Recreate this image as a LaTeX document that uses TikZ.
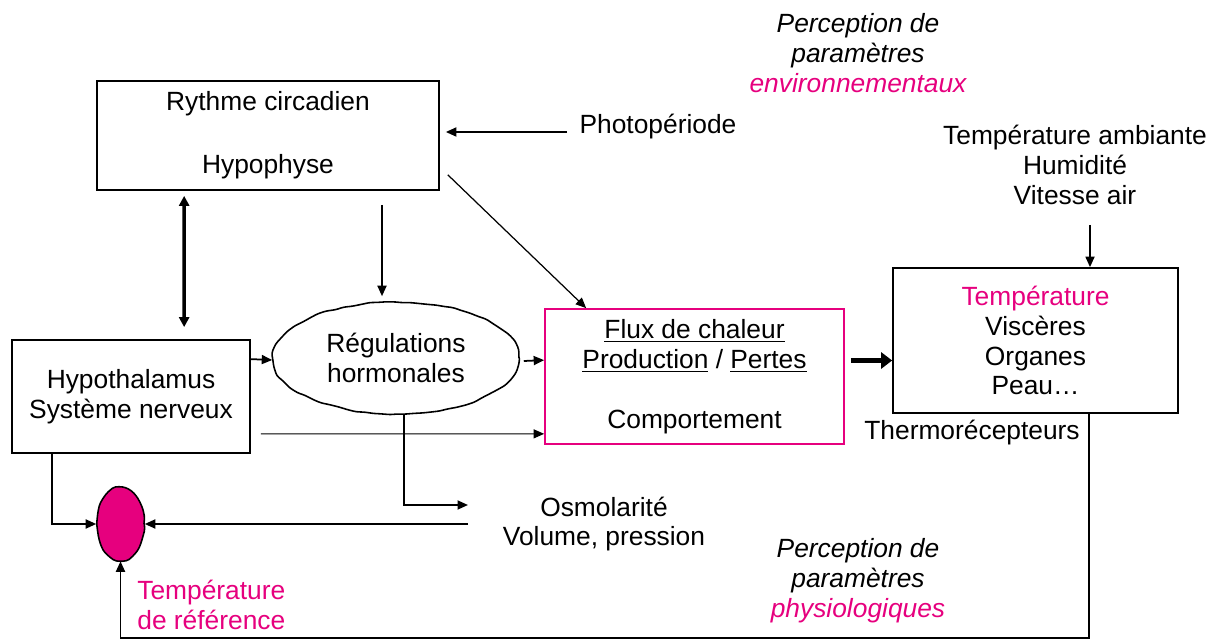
\documentclass[tikz,border=0pt]{standalone}
\usepackage{fontspec}
\setmainfont{Liberation Sans}
\usetikzlibrary{arrows.meta, shapes.geometric, decorations.pathmorphing}
\definecolor{rose}{HTML}{E6007E}

\begin{document}
\pgfmathsetseed{7}
\begin{tikzpicture}[x = 0.02cm, y = -0.02cm,
    every node/.style = {font=\fontsize{15}{17}\selectfont, align=center, inner sep=0pt},
    box/.style = {draw, line width=1pt},
    nuage/.style = {ellipse, draw, line width=0.9pt, minimum width=4.92cm, minimum height=2.24cm,
      decorate, decoration={random steps, segment length=5pt, amplitude=0.45pt}, rounded corners=1.5pt},
    consigne/.style = {ellipse, draw, fill=rose, line width=0.9pt, minimum width=0.94cm, minimum height=1.46cm,
      decorate, decoration={random steps, segment length=4pt, amplitude=0.35pt}, rounded corners=1pt},
    penche/.style = {font=\fontsize{15}{17}\selectfont\itshape},
    fleche/.style = {-{Triangle[length=0.21cm, width=0.18cm]}, line width=1pt},
    bidir/.style = {{Triangle[length=0.2cm, width=0.2cm]}-{Triangle[length=0.2cm, width=0.2cm]}, line width=2pt},
    epais/.style = {-{Triangle[length=0.22cm, width=0.32cm]}, line width=3.4pt}]

  \useasboundingbox (0,0) rectangle (1217,641);

  \node[box, minimum width=6.84cm, minimum height=2.18cm] (rythme) at (268,135.5) {Rythme circadien\\[19pt]Hypophyse};
  \node[box, minimum width=4.76cm, minimum height=2.26cm] (hypo) at (131,396.5) {Hypothalamus\\Système nerveux};
  \node[box, draw=rose, minimum width=5.98cm, minimum height=2.7cm] (flux) at (694.5,376.5)
    {\underline{Flux de chaleur}\\\underline{Production} / \underline{Pertes}\\[17pt]Comportement};
  \node[box, minimum width=5.7cm, minimum height=2.9cm] (temp) at (1035.5,340.5)
    {\textcolor{rose}{Température}\\Viscères\\Organes\\Peau…};
  \node[nuage] (regul) at (396,358) {Régulations\\hormonales};
  \node[consigne] (ref) at (120.5,524) {};

  \node (photo) at (658,127) {Photopériode};
  \node[penche] (envir) at (858,53) {Perception de\\paramètres\\\textcolor{rose}{environnementaux}};
  \node (ambiant) at (1075,165) {Température ambiante\\Humidité\\Vitesse air};
  \node (thermo) at (972,433) {Thermorécepteurs};
  \node (osmo) at (604,524) {Osmolarité\\Volume, pression};
  \node[penche] (physio) at (858,581) {Perception de\\paramètres\\\textcolor{rose}{physiologiques}};
  \node[anchor=west, align=left, text=rose] (tref) at (137,605) {Température\\de référence};

  \coordinate (photosrc) at (567,132);
  \coordinate (osmoin) at (468,505);
  \coordinate (osmoout) at (468,524);
  \coordinate (ambsrc) at (1090,225);
  \coordinate (bas) at (1089,638);
  \coordinate (thk) at ([shift={(6,-16)}]flux.east);

  \draw[fleche, shorten >=0.12cm] (photosrc) -- (photosrc -| rythme.east);
  \draw[fleche, line width=0.7pt] ([shift={(8,-16)}]rythme.south east) -- ([shift={(42,0)}]flux.north west);
  \draw[fleche] ([shift={(114,14)}]rythme.south) -- ([shift={(-14,-5)}]regul.north);
  \draw[bidir] ([shift={(88,5)}]rythme.south west) -- ([shift={(173,-12)}]hypo.north west);
  \draw[fleche] ([shift={(0,20)}]hypo.north east) -- ([shift={(0,2)}]regul.west);
  \draw[fleche] ([shift={(4,3)}]regul.east) -- ([shift={(0,52)}]flux.north west);
  \draw[fleche, line width=0.6pt] ([shift={(10,-20)}]hypo.south east) -- ([shift={(0,-11)}]flux.south west);
  \draw[fleche] ([shift={(8,0)}]regul.south) |- (osmoin);
  \draw[fleche] (osmoout) -- (ref.east);
  \draw[fleche] ([shift={(41,0)}]hypo.south west) |- (ref.west);
  \draw[epais] (thk) -- (thk -| temp.west);
  \draw[fleche] (ambsrc) -- (ambsrc |- temp.north);
  \draw[fleche] (bas |- temp.south) -- (bas) -| (ref.south);
\end{tikzpicture}
\end{document}
